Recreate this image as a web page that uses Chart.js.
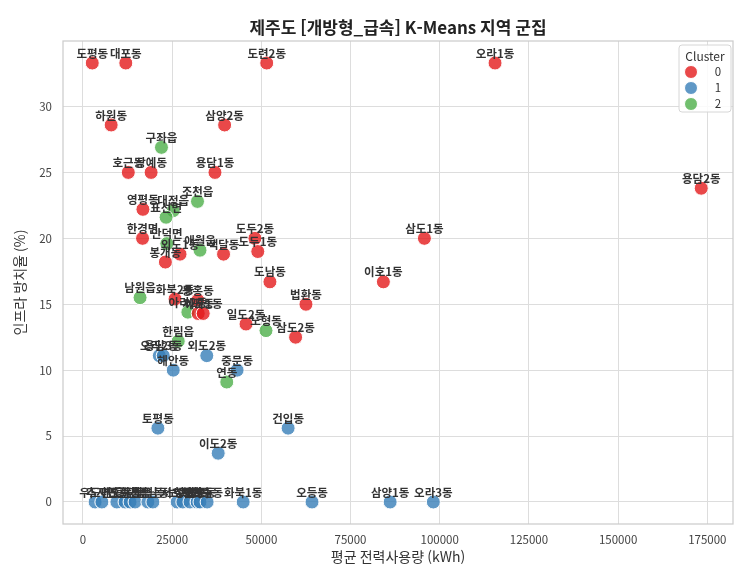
<!DOCTYPE html>
<html lang="ko">
<head>
<meta charset="utf-8">
<title>제주도 K-Means 지역 군집</title>
<script src="https://cdn.jsdelivr.net/npm/chart.js@4.4.1/dist/chart.umd.min.js"></script>
<style>
  html, body { margin: 0; padding: 0; background: #fff; }
  #wrap { width: 754px; height: 584px; position: relative; }
</style>
</head>
<body>
<div id="wrap"><canvas id="clusterChart"></canvas></div>
<script>
const FONT = "'Noto Sans CJK KR', 'Noto Sans', sans-serif";

// 군집 0
const cluster0Names = ["도평동", "대포동", "도련2동", "오라1동", "하원동", "삼양2동", "호근동", "상예동",
  "용담1동", "용담2동", "영평동", "한경면", "봉개동", "외도1동", "색달동", "도두2동", "도두1동",
  "삼도1동", "도남동", "이호1동", "법환동", "일도2동", "삼도2동", "화북2동", "동홍동", "서귀동", "이도1동"];
const cluster0Power = [2600, 12000, 51500, 115500, 7900, 39700, 12700, 19100,
  37000, 173300, 16800, 16700, 23100, 27200, 39400, 48200, 49000,
  95700, 52400, 84200, 62500, 45700, 59600, 25800, 32200, 32300, 33700];
const cluster0Idle = [33.3, 33.3, 33.3, 33.3, 28.6, 28.6, 25.0, 25.0,
  25.0, 23.8, 22.2, 20.0, 18.2, 18.8, 18.8, 20.0, 19.0,
  20.0, 16.7, 16.7, 15.0, 13.5, 12.5, 15.4, 15.3, 14.3, 14.3];

// 군집 1
const cluster1Names = ["토평동", "건입동", "이도2동", "외도2동", "오라2동", "용담3동", "해안동", "중문동",
  "우도면", "추자면", "내도동", "도순동", "용강동", "회천동", "월평동", "영남동", "서호동", "보목동",
  "상효동", "하효동", "신효동", "회수동", "화북1동", "오등동", "삼양1동", "오라3동"];
const cluster1Power = [21000, 57500, 37900, 34700, 21400, 22500, 25300, 43200,
  3400, 5300, 9500, 11800, 13200, 14600, 18200, 19600, 26400, 28000,
  30000, 32000, 32800, 34800, 44900, 64200, 86100, 98200];
const cluster1Idle = [5.6, 5.6, 3.7, 11.1, 11.1, 11.1, 10.0, 10.0,
  0, 0, 0, 0, 0, 0, 0, 0, 0, 0,
  0, 0, 0, 0, 0, 0, 0, 0];

// 군집 2
const cluster2Names = ["구좌읍", "조천읍", "대정읍", "표선면", "안덕면", "애월읍", "남원읍", "아라2동",
  "한림읍", "노형동", "연동"];
const cluster2Power = [22000, 32100, 25300, 23300, 23500, 32800, 16000, 29400, 26700, 51300, 40300];
const cluster2Idle = [26.9, 22.8, 22.1, 21.6, 19.6, 19.1, 15.5, 14.4, 12.2, 13.0, 9.1];

const clusterLabels = ["0", "1", "2"];
const clusterColors = ["rgba(228, 26, 28, 0.8)", "rgba(55, 126, 184, 0.8)", "rgba(77, 175, 74, 0.8)"];

const xTicks = [0, 25000, 50000, 75000, 100000, 125000, 150000, 175000];
const yTicks = [0, 5, 10, 15, 20, 25, 30];

function makeDataset(idx, names, xs, ys) {
  return {
    label: clusterLabels[idx],
    names: names,
    data: xs.map((x, i) => ({ x: x, y: ys[i] })),
    backgroundColor: clusterColors[idx],
    borderColor: "#ffffff",
    borderWidth: 1,
    pointRadius: 7,
    pointHoverRadius: 7
  };
}

// 점 위 지역명 표시
const pointLabels = {
  id: "pointLabels",
  afterDatasetsDraw(chart) {
    const ctx = chart.ctx;
    ctx.save();
    ctx.font = "bold 11.5px " + FONT;
    ctx.fillStyle = "#333333";
    ctx.textAlign = "center";
    ctx.textBaseline = "bottom";
    chart.data.datasets.forEach((ds, di) => {
      chart.getDatasetMeta(di).data.forEach((pt, i) => {
        ctx.fillText(ds.names[i], pt.x, pt.y - 4);
      });
    });
    ctx.restore();
  }
};

// 범례 (플롯 안 오른쪽 위)
const clusterLegend = {
  id: "clusterLegend",
  afterDraw(chart) {
    const ctx = chart.ctx;
    const area = chart.chartArea;
    const w = 52, h = 67;
    const left = area.right - 2 - w, top = area.top + 4;
    ctx.save();
    ctx.beginPath();
    ctx.roundRect(left, top, w, h, 3);
    ctx.fillStyle = "rgba(255,255,255,0.85)";
    ctx.fill();
    ctx.strokeStyle = "#d6d6d6";
    ctx.lineWidth = 1;
    ctx.stroke();

    ctx.fillStyle = "#333333";
    ctx.textAlign = "center";
    ctx.textBaseline = "middle";
    ctx.font = "12px " + FONT;
    ctx.fillText("Cluster", left + w / 2, top + 11);
    ctx.font = "11.5px " + FONT;
    clusterLabels.forEach((lab, i) => {
      const cy = top + 27 + i * 16;
      ctx.beginPath();
      ctx.arc(left + 12, cy, 6.5, 0, Math.PI * 2);
      ctx.fillStyle = clusterColors[i];
      ctx.fill();
      ctx.strokeStyle = "#ffffff";
      ctx.lineWidth = 1;
      ctx.stroke();
      ctx.fillStyle = "#333333";
      ctx.fillText(lab, left + 39, cy);
    });
    ctx.restore();
  }
};

// 플롯 테두리
const frameBorder = {
  id: "frameBorder",
  afterDraw(chart) {
    const { ctx, chartArea: a } = chart;
    ctx.save();
    ctx.strokeStyle = "#cccccc";
    ctx.lineWidth = 1.25;
    ctx.strokeRect(a.left, a.top, a.right - a.left, a.bottom - a.top);
    ctx.restore();
  }
};

const chart = new Chart(document.getElementById("clusterChart").getContext("2d"), {
  type: "scatter",
  data: {
    datasets: [
      makeDataset(0, cluster0Names, cluster0Power, cluster0Idle),
      makeDataset(1, cluster1Names, cluster1Power, cluster1Idle),
      makeDataset(2, cluster2Names, cluster2Power, cluster2Idle)
    ]
  },
  options: {
    responsive: true,
    maintainAspectRatio: false,
    animation: false,
    layout: { padding: { left: 0, right: 21, top: 0, bottom: 0 } },
    scales: {
      x: {
        type: "linear",
        min: -5600,
        max: 182200,
        afterBuildTicks: (scale) => { scale.ticks = xTicks.map(v => ({ value: v })); },
        afterFit: (scale) => { scale.height = 60; },
        grid: { color: "#dddddd", lineWidth: 1, drawTicks: false },
        border: { display: false },
        ticks: {
          color: "#444444",
          padding: 9,
          maxRotation: 0,
          font: { family: FONT, size: 11.5 },
          callback: (v) => String(v)
        },
        title: {
          display: true,
          text: "평균 전력사용량 (kWh)",
          color: "#333333",
          font: { family: FONT, size: 14 },
          padding: { top: 0, bottom: 19 }
        }
      },
      y: {
        type: "linear",
        min: -1.67,
        max: 34.97,
        afterBuildTicks: (scale) => { scale.ticks = yTicks.map(v => ({ value: v })); },
        afterFit: (scale) => { scale.width = 63; },
        grid: { color: "#dddddd", lineWidth: 1, drawTicks: false },
        border: { display: false },
        ticks: {
          color: "#444444",
          padding: 11,
          font: { family: FONT, size: 11.5 },
          callback: (v) => String(v)
        },
        title: {
          display: true,
          text: "인프라 방치율 (%)",
          color: "#333333",
          font: { family: FONT, size: 14 },
          padding: { top: 11, bottom: 0 }
        }
      }
    },
    plugins: {
      legend: { display: false },
      tooltip: {
        callbacks: {
          label: (c) => `${c.dataset.names[c.dataIndex]}: ${c.raw.x} kWh, ${c.raw.y}%`
        }
      },
      title: {
        display: true,
        fullSize: false,
        text: "제주도 [개방형_급속] K-Means 지역 군집",
        color: "#222222",
        font: { family: FONT, size: 17, weight: "bold", lineHeight: 1.2 },
        padding: { top: 17, bottom: 3.6 }
      }
    }
  },
  plugins: [pointLabels, frameBorder, clusterLegend]
});
</script>
</body>
</html>
